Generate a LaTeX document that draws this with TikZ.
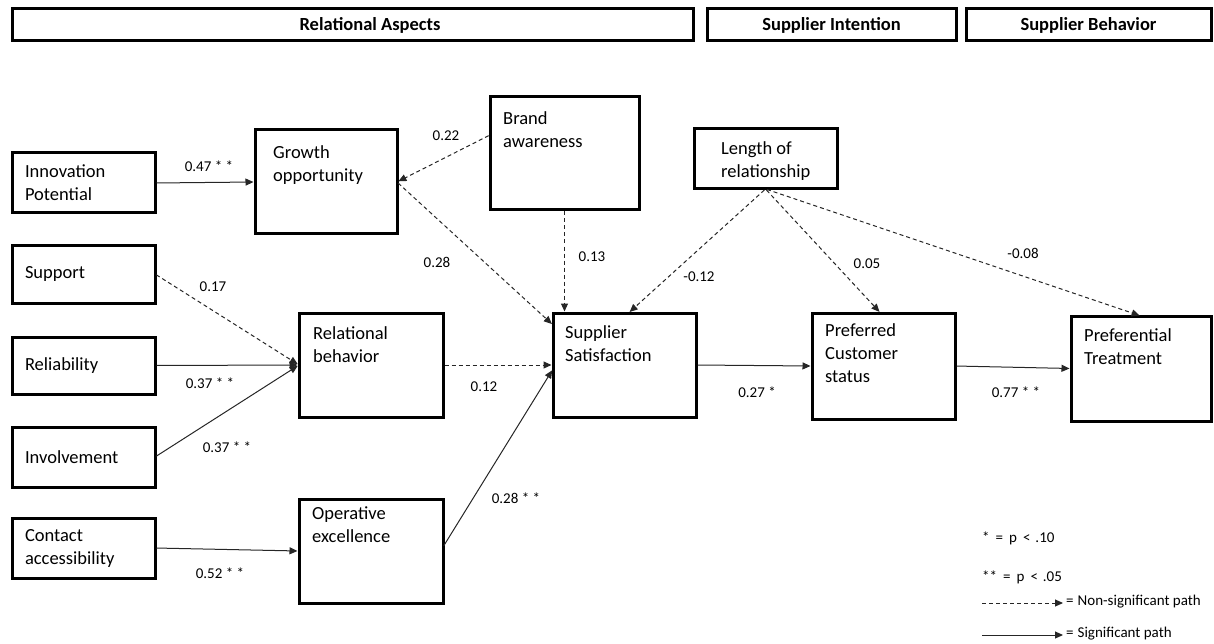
\documentclass[tikz,border=0pt]{standalone}
\usepackage{fontspec}
\setmainfont{Carlito}
\usetikzlibrary{arrows.meta}
\newcommand\bxf{\fontsize{18.5}{23}\selectfont}
\newcommand\lbf{\fontsize{15}{18}\selectfont}
\begin{document}
\begin{tikzpicture}[x=1pt,y=-1pt,
  box/.style={draw=black, line width=3pt, outer sep=0pt, inner sep=0pt, anchor=north west},
  sbox/.style={box, align=left, inner xsep=13pt, inner ysep=0pt, font=\bxf},
  btxt/.style={anchor=north west, inner sep=0pt, align=left, font=\bxf},
  hdr/.style={box, font=\bxf\bfseries, minimum height=32pt},
  htxt/.style={inner sep=0pt, font=\bxf\bfseries},
  lbl/.style={inner sep=0pt, font=\lbf},
  sig/.style={draw=black!85, line width=1pt, shorten <=1.5pt, shorten >=1.5pt, -{Triangle[length=8pt,width=7pt]}},
  nsig/.style={sig, dash pattern=on 4pt off 3pt},
  lgd/.style={anchor=west, inner sep=0pt, font=\lbf}]
\useasboundingbox (0,0) rectangle (1214,644);

% header bars
\node[hdr, minimum width=681pt] (hRel) at (12,9) {};
\node[htxt] (hRelT) at (370,25) {Relational Aspects};
\node[hdr, minimum width=249pt] (hInt) at (707,9) {Supplier Intention};
\node[hdr, minimum width=245pt] (hBeh) at (966,9) {Supplier Behavior};

% left column boxes
\node[sbox, minimum width=143pt, minimum height=60pt, text width=117pt] (inno) at (12,153) {Innovation\\Potential};
\node[sbox, minimum width=143pt, minimum height=58pt, text width=117pt] (supp) at (12,245) {Support};
\node[sbox, minimum width=143pt, minimum height=57pt, text width=117pt] (reli) at (12,337) {Reliability};
\node[sbox, minimum width=143pt, minimum height=60pt, text width=117pt] (invo) at (12,427) {Involvement};
\node[sbox, minimum width=143pt, minimum height=60pt, text width=117pt] (cont) at (12,518) {Contact\\accessibility};

% other boxes
\node[box, minimum width=142pt, minimum height=104pt] (grow) at (255,130) {};
\node[btxt] (growT) at ([shift={(18,15)}]grow.north west) {Growth\\opportunity};

\node[box, minimum width=144pt, minimum height=104pt] (rel) at (299,313) {};
\node[btxt] (relT) at ([shift={(14,13)}]rel.north west) {Relational\\behavior};

\node[box, minimum width=144pt, minimum height=104pt] (oper) at (299,499) {};
\node[btxt] (operT) at ([shift={(13,8)}]oper.north west) {Operative\\excellence};

\node[box, minimum width=149pt, minimum height=113pt] (brand) at (490,97) {};
\node[btxt] (brandT) at ([shift={(13,14)}]brand.north west) {Brand\\awareness};

\node[box, minimum width=143pt, minimum height=104pt] (sat) at (553,313) {};
\node[btxt] (satT) at ([shift={(12,12)}]sat.north west) {Supplier\\Satisfaction};

\node[box, minimum width=143pt, minimum height=60pt] (len) at (694,129) {};
\node[btxt] (lenT) at ([shift={(27,12)}]len.north west) {Length of\\relationship};

\node[box, minimum width=143pt, minimum height=106pt] (pref) at (812,313) {};
\node[btxt] (prefT) at ([shift={(13,10)}]pref.north west) {Preferred\\Customer\\status};

\node[box, minimum width=140pt, minimum height=105pt] (treat) at (1071,316) {};
\node[btxt] (treatT) at ([shift={(13,12)}]treat.north west) {Preferential\\Treatment};

% connectors
\draw[sig] (inno.east) -- (grow.west);
\draw[nsig] ([yshift=-38pt]brand.north west) -- (grow.east);
\draw[nsig] (grow.east) -- ([yshift=-12pt]sat.north west);
\draw[nsig] (brand.south) -- (brand.south |- sat.north);
\draw[nsig] (len.south) -- ([xshift=4pt]sat.north);
\draw[nsig] (len.south) -- ([xshift=-3pt]pref.north);
\draw[nsig] (len.south) -- (treat.north);
\draw[nsig] (supp.east) -- (rel.west);
\draw[sig] (reli.east) -- (rel.west);
\draw[sig] (invo.east) -- (rel.west);
\draw[nsig] (rel.east) -- (sat.west);
\draw[sig] (cont.east) -- (oper.west);
\draw[sig] ([yshift=4pt]oper.east) -- ([yshift=-4pt]sat.west);
\draw[sig] (sat.east) -- (pref.west);
\draw[sig] (pref.east) -- (treat.west);

% edge labels
\node[lbl] (l1) at (209,166) {0.47 * *};
\node[lbl] (l2) at (446,136) {0.22};
\node[lbl] (l3) at (437,262) {0.28};
\node[lbl] (l4) at (592,257) {0.13};
\node[lbl] (l5) at (699,277) {-0.12};
\node[lbl] (l6) at (867,264) {0.05};
\node[lbl] (l7) at (1023,253) {-0.08};
\node[lbl] (l8) at (213,287) {0.17};
\node[lbl] (l9) at (210,383) {0.37 * *};
\node[lbl] (l10) at (227,447) {0.37 * *};
\node[lbl] (l11) at (484,387) {0.12};
\node[lbl] (l12) at (516,498) {0.28 * *};
\node[lbl] (l13) at (757,392) {0.27 *};
\node[lbl] (l14) at (1016,392) {0.77 * *};
\node[lbl] (l15) at (220,573) {0.52 * *};

% legend
\node[lgd] (lg1) at (982,538) {*\hspace{6pt}=\hspace{6pt}p\hspace{6pt}<\hspace{5pt}.10};
\node[lgd] (lg2) at (982,577) {**\hspace{6pt}=\hspace{6pt}p\hspace{6pt}<\hspace{5pt}.05};
\coordinate (ldA) at (982,603);
\coordinate (ldB) at (1063,603);
\draw[nsig, shorten <=0pt, shorten >=0pt] (ldA) -- (ldB);
\node[lgd] (lg3) at (1066,602) {=\hspace{4pt}Non-significant path};
\coordinate (lsA) at (982,635);
\coordinate (lsB) at (1063,635);
\draw[sig, shorten <=0pt, shorten >=0pt] (lsA) -- (lsB);
\node[lgd] (lg4) at (1066,634) {=\hspace{4pt}Significant path};
\end{tikzpicture}
\end{document}
